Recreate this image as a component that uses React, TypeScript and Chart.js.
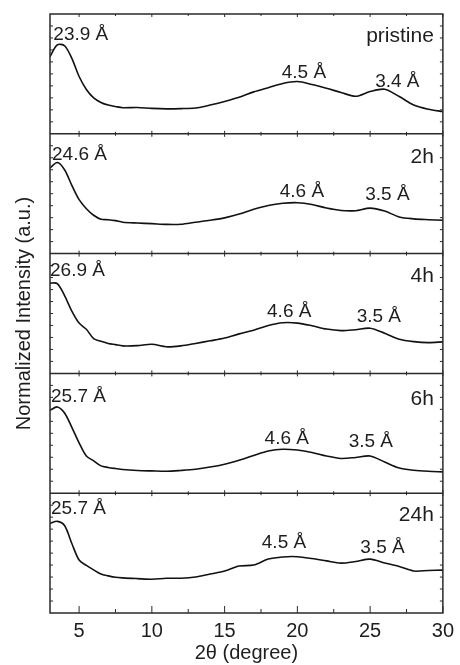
import { useEffect, useRef } from "react";
import { Chart, registerables } from "chart.js";

Chart.register(...registerables);

// 2θ sampling (degree)
const TWO_THETA = [3, 3.5, 4, 4.5, 5, 5.5, 6, 6.5, 7, 7.5, 8, 9, 10, 11, 12, 13, 14, 15, 16, 17, 18, 19, 20, 21, 22, 23, 24, 25, 26, 27, 28, 29, 30];

// Normalized intensity, each panel on its own 0..1 band
const PRISTINE = [0.644, 0.742, 0.735, 0.63, 0.478, 0.37, 0.3, 0.262, 0.24, 0.228, 0.218, 0.22, 0.212, 0.208, 0.21, 0.216, 0.24, 0.27, 0.305, 0.35, 0.385, 0.42, 0.436, 0.412, 0.38, 0.345, 0.313, 0.353, 0.372, 0.311, 0.24, 0.205, 0.186];
const H2 = [0.714, 0.76, 0.7, 0.57, 0.45, 0.375, 0.32, 0.287, 0.283, 0.275, 0.262, 0.255, 0.25, 0.244, 0.245, 0.262, 0.278, 0.298, 0.33, 0.37, 0.402, 0.42, 0.425, 0.41, 0.38, 0.36, 0.358, 0.38, 0.355, 0.306, 0.29, 0.283, 0.278];
const H4 = [0.754, 0.75, 0.65, 0.52, 0.42, 0.368, 0.29, 0.268, 0.25, 0.24, 0.23, 0.232, 0.243, 0.222, 0.23, 0.25, 0.272, 0.295, 0.33, 0.36, 0.4, 0.423, 0.42, 0.398, 0.37, 0.357, 0.365, 0.377, 0.335, 0.285, 0.265, 0.257, 0.263];
const H6 = [0.692, 0.72, 0.67, 0.55, 0.42, 0.31, 0.27, 0.228, 0.215, 0.206, 0.198, 0.19, 0.186, 0.183, 0.19, 0.2, 0.218, 0.242, 0.275, 0.315, 0.352, 0.367, 0.36, 0.34, 0.31, 0.29, 0.298, 0.311, 0.26, 0.21, 0.192, 0.183, 0.178];
const H24 = [0.748, 0.765, 0.73, 0.58, 0.442, 0.397, 0.36, 0.325, 0.31, 0.298, 0.293, 0.287, 0.282, 0.29, 0.29, 0.3, 0.325, 0.35, 0.392, 0.4, 0.45, 0.468, 0.47, 0.455, 0.435, 0.416, 0.43, 0.45, 0.418, 0.388, 0.35, 0.355, 0.358];

const SERIES = [PRISTINE, H2, H4, H6, H24];
const PANEL_NAMES = ["pristine", "2h", "4h", "6h", "24h"];

// x tick labels
const X_TICKS = [5, 10, 15, 20, 25, 30];
const X_MINOR = [7.5, 12.5, 17.5, 22.5, 27.5];

// annotations: text, 2θ anchor, band height anchor
const D_SPACING = ["23.9 Å", "24.6 Å", "26.9 Å", "25.7 Å", "25.7 Å"];
const D_X = [3.23, 3.14, 3.0, 3.07, 3.07];
const D_V = [0.783, 0.783, 0.809, 0.761, 0.825];
const P1_TEXT = ["4.5 Å", "4.6 Å", "4.6 Å", "4.6 Å", "4.5 Å"];
const P1_X = [20.45, 20.31, 19.44, 19.27, 19.08];
const P1_V = [0.464, 0.469, 0.473, 0.414, 0.539];
const P2_TEXT = ["3.4 Å", "3.5 Å", "3.5 Å", "3.5 Å", "3.5 Å"];
const P2_X = [26.87, 26.19, 25.6, 25.05, 25.85];
const P2_V = [0.389, 0.45, 0.426, 0.386, 0.503];
const NAME_X = 29.38;
const NAME_V = [0.77, 0.756, 0.767, 0.733, 0.767];

const FONT = '"Liberation Sans", Arial, Helvetica, sans-serif';
const INK = "#1e1e1e";

const framePlugin = {
  id: "panelFrame",
  afterDatasetsDraw(chart: any) {
    const { ctx, chartArea: a, scales } = chart;
    const xs = scales.x;
    const ys = scales.y;
    const n = SERIES.length;
    ctx.save();
    ctx.strokeStyle = "#2a2a2a";
    ctx.lineWidth = 1.5;
    ctx.strokeRect(a.left, a.top, a.right - a.left, a.bottom - a.top);
    ctx.beginPath();
    for (let k = 1; k < n; k++) {
      const py = ys.getPixelForValue(k);
      ctx.moveTo(a.left, py);
      ctx.lineTo(a.right, py);
    }
    ctx.stroke();

    // ticks
    ctx.lineWidth = 1;
    ctx.beginPath();
    for (let k = 0; k < n; k++) {
      const top = ys.getPixelForValue(k + 1);
      const bot = ys.getPixelForValue(k);
      const isLast = k === 0;
      for (const v of X_TICKS) {
        const px = xs.getPixelForValue(v);
        ctx.moveTo(px, top);
        ctx.lineTo(px, top + 3);
        ctx.moveTo(px, bot);
        ctx.lineTo(px, bot - (isLast ? 7 : 3));
      }
      for (const v of X_MINOR) {
        const px = xs.getPixelForValue(v);
        ctx.moveTo(px, top);
        ctx.lineTo(px, top + 2);
        ctx.moveTo(px, bot);
        ctx.lineTo(px, bot - (isLast ? 4 : 2));
      }
      for (let j = 1; j < 10; j++) {
        const py = ys.getPixelForValue(k + j / 10);
        ctx.moveTo(a.left, py);
        ctx.lineTo(a.left + 3, py);
        ctx.moveTo(a.right, py);
        ctx.lineTo(a.right - 3, py);
      }
    }
    ctx.stroke();

    // annotations
    ctx.fillStyle = INK;
    ctx.textBaseline = "alphabetic";
    for (let i = 0; i < n; i++) {
      const base = n - 1 - i;
      ctx.font = `19px ${FONT}`;
      ctx.textAlign = "left";
      ctx.fillText(D_SPACING[i], xs.getPixelForValue(D_X[i]), ys.getPixelForValue(base + D_V[i]));
      ctx.textAlign = "center";
      ctx.fillText(P1_TEXT[i], xs.getPixelForValue(P1_X[i]), ys.getPixelForValue(base + P1_V[i]));
      ctx.fillText(P2_TEXT[i], xs.getPixelForValue(P2_X[i]), ys.getPixelForValue(base + P2_V[i]));
      ctx.font = `21px ${FONT}`;
      ctx.textAlign = "right";
      ctx.fillText(PANEL_NAMES[i], xs.getPixelForValue(NAME_X), ys.getPixelForValue(base + NAME_V[i]));
    }
    ctx.restore();
  },
};

export default function App() {
  const ref = useRef<HTMLCanvasElement | null>(null);

  useEffect(() => {
    if (!ref.current) return;
    const n = SERIES.length;
    const datasets = SERIES.map((s, k) => ({
      label: PANEL_NAMES[k],
      data: TWO_THETA.map((t, i) => ({ x: t, y: n - 1 - k + s[i] })),
      borderColor: "#111",
      borderWidth: 1.6,
      pointRadius: 0,
      tension: 0.3,
      fill: false,
    }));
    const chart = new Chart(ref.current, {
      type: "line",
      data: { datasets },
      options: {
        animation: false,
        responsive: false,
        maintainAspectRatio: false,
        layout: { padding: { top: 14, right: 13, left: 0, bottom: 0 } },
        plugins: { legend: { display: false }, tooltip: { enabled: false } },
        scales: {
          x: {
            type: "linear",
            min: 3,
            max: 30,
            afterBuildTicks: (s: any) => {
              s.ticks = X_TICKS.map((v) => ({ value: v }));
            },
            afterFit: (s: any) => {
              s.height = 52;
            },
            ticks: { font: { family: FONT, size: 20 }, color: INK, padding: 6, maxRotation: 0, autoSkip: false },
            grid: { display: false, drawTicks: false },
            border: { display: false },
            title: {
              display: true,
              text: "2θ (degree)",
              font: { family: FONT, size: 20 },
              color: INK,
              padding: { top: 0, bottom: 0 },
            },
          },
          y: {
            type: "linear",
            min: 0,
            max: 5,
            afterFit: (s: any) => {
              s.width = 50;
            },
            ticks: { display: false },
            grid: { display: false, drawTicks: false },
            border: { display: false },
            title: {
              display: true,
              text: "Normalized Intensity (a.u.)",
              font: { family: FONT, size: 20 },
              color: INK,
              padding: { top: 12, bottom: 0 },
            },
          },
        },
      },
      plugins: [framePlugin],
    } as any);
    return () => chart.destroy();
  }, []);

  return (
    <div style={{ position: "fixed", left: 0, top: 0, width: 460, height: 665, background: "#fff" }}>
      <canvas ref={ref} width={460} height={665} style={{ display: "block" }} />
    </div>
  );
}
